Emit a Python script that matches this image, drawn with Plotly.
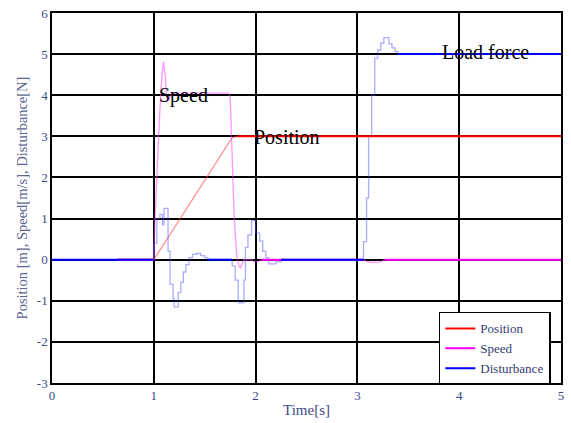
import numpy as np
import plotly.graph_objects as go

# ---------------- data ----------------
pos_t = [0.64, 1.0, 1.77, 1.82, 5.0]
pos_y = [0.0, 0.0, 2.97, 3.0, 3.0]

spd_t = [0.64, 1.0, 1.01, 1.03, 1.055, 1.072, 1.094, 1.112, 1.127, 1.145, 1.16, 1.19, 1.22,
         1.735, 1.75, 1.771, 1.79, 1.814, 1.835, 1.85, 1.865, 1.885, 1.96, 1.99, 2.02, 2.06,
         3.06, 3.1, 3.14, 3.22, 3.27, 5.0]
spd_y = [0.0, 0.0, 0.9, 2.2, 3.4, 4.2, 4.82, 4.5, 3.95, 3.87, 3.97, 4.05, 4.05,
         4.05, 3.94, 2.66, 1.06, 0.1, -0.15, -0.2, -0.12, 0.0, 0.0, -0.06, -0.05, 0.0,
         0.0, -0.05, -0.07, -0.06, 0.0, 0.0]

# disturbance is a step signal: value holds from each time until the next
dist_t = [0.0, 1.0, 1.03, 1.06, 1.085, 1.1, 1.14, 1.16, 1.19, 1.2, 1.24, 1.265, 1.29, 1.315,
          1.345, 1.38, 1.42, 1.46, 1.5, 1.53, 1.77, 1.8, 1.83, 1.885, 1.9, 1.925, 1.96, 2.0,
          2.04, 2.07, 2.1, 2.13, 2.2, 2.25, 3.06, 3.09, 3.11, 3.14, 3.17, 3.2, 3.23, 3.26,
          3.31, 3.34, 3.37, 3.4, 5.0]
dist_y = [0.0, 0.4, 1.0, 1.1, 0.85, 1.25, 0.2, -0.6, -0.95, -1.15, -0.8, -0.55, -0.3, -0.12,
          0.05, 0.13, 0.15, 0.1, 0.05, 0.0, -0.15, -0.5, -1.05, -0.5, 0.3, 0.6, 0.95, 0.65,
          0.45, 0.2, 0.05, -0.1, -0.05, 0.0, 0.44, 1.5, 3.0, 4.0, 4.9, 5.1, 5.27, 5.4,
          5.25, 5.15, 5.06, 5.0, 5.0]

x_ticks = [0, 1, 2, 3, 4, 5]
y_ticks = [-3, -2, -1, 0, 1, 2, 3, 4, 5, 6]

series_names = ["Position", "Speed", "Disturbance"]
series_colors = ["#ff0000", "#ff00ff", "#0000ff"]
light_colors = ["rgba(255,60,60,0.55)", "rgba(255,60,255,0.55)", "rgba(70,70,255,0.45)"]

labels = [("Speed", 1.03, 3.99), ("Position", 1.965, 2.99), ("Load force", 3.81, 5.06)]


def steps_to_points(t, y):
    xs, ys = [], []
    for i in range(len(t)):
        if i > 0:
            xs.append(t[i]); ys.append(y[i - 1])
        xs.append(t[i]); ys.append(y[i])
    return xs, ys


def steady_segments(t, y):
    """Segments where the signal rests at its initial or final value."""
    xs, ys = [], []
    steady = {y[0], y[-1]}
    for i in range(len(t) - 1):
        if y[i] == y[i + 1] and y[i] in steady and (t[i + 1] - t[i]) > 0.1:
            xs += [t[i], t[i + 1], None]
            ys += [y[i], y[i + 1], None]
    return xs, ys


dxs, dys = steps_to_points(dist_t, dist_y)
all_series = [(pos_t, pos_y), (spd_t, spd_y), (dxs, dys)]

fig = go.Figure()
for (tx, ty), name, col, lcol in zip(all_series, series_names, series_colors, light_colors):
    fig.add_trace(go.Scatter(x=tx, y=ty, mode="lines", line=dict(color=lcol, width=1.3),
                             showlegend=False, hoverinfo="skip"))
for (tx, ty), name, col in zip(all_series, series_names, series_colors):
    sx, sy = steady_segments(tx, ty)
    fig.add_trace(go.Scatter(x=sx, y=sy, mode="lines", name=name,
                             line=dict(color=col, width=2), connectgaps=False))

for txt, lx, ly in labels:
    fig.add_annotation(x=lx, y=ly, text=txt, showarrow=False, xanchor="left", yanchor="middle",
                       font=dict(family="Liberation Serif", size=20, color="black"))

tick_font = dict(family="Liberation Serif", size=13, color="#3d4a85")
fig.update_layout(
    width=571, height=423,
    margin=dict(l=52, r=10, t=13, b=40, autoexpand=False),
    paper_bgcolor="white", plot_bgcolor="white",
    xaxis=dict(range=[0, 5], tickvals=x_ticks, ticktext=[str(v) for v in x_ticks],
               showgrid=True, gridcolor="black", gridwidth=1.5, automargin=False,
               zeroline=False, showline=True, linecolor="black", linewidth=1.5, mirror=True,
               tickfont=tick_font,
               title=dict(text="Time[s]", font=dict(family="Liberation Serif", size=15, color="#3d4a85"),
                          standoff=2)),
    yaxis=dict(range=[-3, 6], tickvals=y_ticks, ticktext=[str(v) for v in y_ticks],
               showgrid=True, gridcolor="black", gridwidth=1.5, automargin=False,
               zeroline=False, showline=True, linecolor="black", linewidth=1.5, mirror=True,
               tickfont=tick_font,
               title=dict(text="Position [m], Speed[m/s], Disturbance[N]",
                          font=dict(family="Liberation Serif", size=14.5, color="#5a6592"),
                          standoff=6)),
    legend=dict(x=0.76, y=0.192, xanchor="left", yanchor="top", bgcolor="white",
                bordercolor="black", borderwidth=1.5, itemwidth=30, tracegroupgap=0,
                font=dict(family="Liberation Serif", size=13, color="#333a70")),
)

fig.write_html("out.html")
